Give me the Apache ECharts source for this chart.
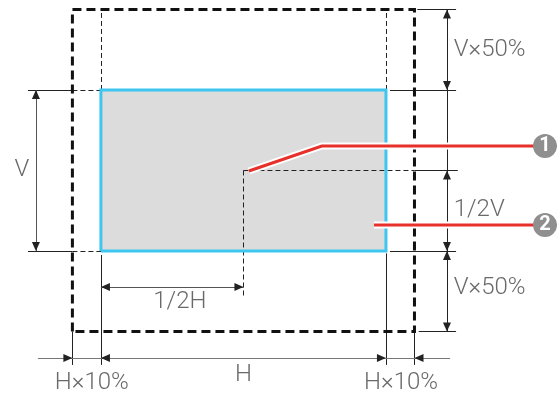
<!DOCTYPE html>
<html>
<head>
<meta charset="UTF-8">
<title>Screen size diagram</title>
<script src="https://cdn.jsdelivr.net/npm/echarts@6/dist/echarts.min.js"></script>
<style>
    html, body { margin: 0; padding: 0; background: #fff; }
    #main { width: 557px; height: 396px; }
</style>
</head>
<body>
<div id="main"></div>
<script>
    // screen (H x V) in percent of itself, margins in percent
    var H = 100, V = 100;
    var sideMargin = 10;   // H×10%
    var topMargin = 50;    // V×50%
    var dimLabels = ['V', 'V×50%', '1/2V', 'V×50%', '1/2H', 'H×10%', 'H', 'H×10%'];
    var callouts = ['1', '2'];

    // visible window of the diagram, same units as H / V
    var xMin = -35.4, xMax = 160.0;
    var yMin = -90.1, yMax = 155.9;

    var oL = -sideMargin, oR = H + sideMargin;     // outer box
    var oB = -topMargin, oT = V + topMargin;
    var cx = H / 2, cy = V / 2;

    var thinDash = {color: '#222', width: 1, type: [5, 3], opacity: 1};
    var solid = {color: '#222', width: 1, opacity: 1};
    var dimLine = {color: '#555', width: 1, opacity: 1};

    var xV = -22.8, xR = 121.4, yBot = -66.5, yHalf = -22.4;
    var extL = -25.6, extR = 124.6, extB = -70.8;

    var guides = [
        // thin dashed guides
        {coords: [[0, V], [0, oT]], lineStyle: thinDash},
        {coords: [[H, V], [H, oT]], lineStyle: thinDash},
        {coords: [[oL, V], [0, V]], lineStyle: thinDash},
        {coords: [[oL, 0], [0, 0]], lineStyle: thinDash},
        {coords: [[cx, cy], [oR, cy]], lineStyle: thinDash},
        {coords: [[cx, cy], [cx, -28]], lineStyle: thinDash},
        // extension lines
        {coords: [[extL, V], [oL, V]], lineStyle: solid},
        {coords: [[extL, 0], [oL, 0]], lineStyle: solid},
        {coords: [[H + 1.4, V], [extR, V]], lineStyle: solid},
        {coords: [[H + 1.4, 0], [extR, 0]], lineStyle: solid},
        {coords: [[oR + 1, oT], [extR, oT]], lineStyle: solid},
        {coords: [[oR + 1.5, oB], [extR, oB]], lineStyle: solid},
        {coords: [[oR, cy], [extR + 0.6, cy]], lineStyle: solid},
        {coords: [[0, -2.5], [0, extB]], lineStyle: solid},
        {coords: [[H, -1.5], [H, extB]], lineStyle: solid},
        {coords: [[oL, oB], [oL, extB]], lineStyle: solid},
        {coords: [[oR, oB], [oR, extB]], lineStyle: solid},
        // dimension lines
        {coords: [[xV, 0], [xV, V]], lineStyle: dimLine},
        {coords: [[xR, oT], [xR, oB]], lineStyle: solid},
        {coords: [[0, yHalf], [cx, yHalf]], lineStyle: dimLine},
        {coords: [[-22.1, yBot], [122.5, yBot]], lineStyle: {color: '#777', width: 1, opacity: 1}}
    ];

    // arrow heads: tip position and direction
    var arrows = [
        [xV, V, 'up'], [xV, 0, 'down'],
        [xR, oT, 'up'], [xR, V, 'down'],
        [xR, cy, 'up'], [xR, 0, 'down'],
        [xR, 0, 'up'], [xR, oB, 'down'],
        [0, yHalf, 'left'], [cx, yHalf, 'right'],
        [oL, yBot, 'right'], [0, yBot, 'left'],
        [H, yBot, 'right'], [oR, yBot, 'left']
    ];

    var call1 = [[51.9, 49.7], [77.5, 65.2], [152.3, 65.2]];
    var call2 = [[95.8, 16.1], [152.3, 16.1]];

    var textStyle = {fontFamily: 'Roboto', fontWeight: 300, fontSize: 24, color: '#444'};
    var labelPts = [
        [-27.7, cy, 'center'], [123.6, 125, 'left'], [123.6, 25.5, 'left'], [123.6, -23, 'left'],
        [27.7, -31.7, 'center'], [-3.2, -82, 'center'], [cx, -77, 'center'], [105.3, -82, 'center']
    ];

    var chart = echarts.init(document.getElementById('main'));
    chart.setOption({
        animation: false,
        grid: {left: 0, right: 0, top: 0, bottom: 0},
        xAxis: {type: 'value', min: xMin, max: xMax, show: false},
        yAxis: {type: 'value', min: yMin, max: yMax, show: false},
        series: [
            {
                type: 'custom',
                z: 1,
                data: [[0, 0, H, V]],
                renderItem: function (params, api) {
                    var p0 = api.coord([api.value(0), api.value(3)]);
                    var p1 = api.coord([api.value(2), api.value(1)]);
                    return {
                        type: 'rect',
                        shape: {x: p0[0], y: p0[1], width: p1[0] - p0[0], height: p1[1] - p0[1]},
                        style: {fill: '#dcdcdc', stroke: null}
                    };
                }
            },
            {
                type: 'lines', coordinateSystem: 'cartesian2d', z: 2,
                symbol: 'none', silent: true,
                data: guides
            },
            {
                type: 'lines', coordinateSystem: 'cartesian2d', z: 3, polyline: true,
                symbol: 'none',
                lineStyle: {color: '#3ec6f0', width: 3, opacity: 1},
                data: [{coords: [[0, 0], [0, V], [H, V], [H, 0], [0, 0]]}]
            },
            {
                type: 'lines', coordinateSystem: 'cartesian2d', z: 4, polyline: true,
                symbol: 'none',
                lineStyle: {color: '#111', width: 3, type: [9, 5], opacity: 1},
                data: [{coords: [[oL, oB], [oL, oT], [oR, oT], [oR, oB], [oL, oB]]}]
            },
            {
                type: 'custom', z: 5,
                data: arrows,
                renderItem: function (params, api) {
                    var d = arrows[params.dataIndex][2];
                    var p = api.coord([api.value(0), api.value(1)]);
                    var L = 9, w = 4;
                    var pts;
                    if (d === 'up') pts = [[p[0], p[1]], [p[0] - w, p[1] + L], [p[0] + w, p[1] + L]];
                    else if (d === 'down') pts = [[p[0], p[1]], [p[0] - w, p[1] - L], [p[0] + w, p[1] - L]];
                    else if (d === 'left') pts = [[p[0], p[1]], [p[0] + L, p[1] - w], [p[0] + L, p[1] + w]];
                    else pts = [[p[0], p[1]], [p[0] - L, p[1] - w], [p[0] - L, p[1] + w]];
                    return {type: 'polygon', shape: {points: pts}, style: {fill: '#222'}};
                }
            },
            {
                type: 'lines', coordinateSystem: 'cartesian2d', z: 6, polyline: true,
                symbol: 'none',
                lineStyle: {color: '#fff', width: 7, opacity: 1},
                data: [{coords: call1}, {coords: call2}]
            },
            {
                type: 'lines', coordinateSystem: 'cartesian2d', z: 7, polyline: true,
                symbol: 'none',
                lineStyle: {color: '#e8302a', width: 3, opacity: 1},
                data: [{coords: call1}, {coords: call2}]
            },
            {
                type: 'scatter', z: 8,
                symbolSize: 24,
                itemStyle: {color: '#8f8f8f', opacity: 1},
                label: {show: true, position: 'inside', color: '#fff', fontSize: 20,
                    fontFamily: 'Roboto', fontWeight: 'bold', formatter: '{b}'},
                data: [
                    {name: callouts[0], value: [155.8, 65.2]},
                    {name: callouts[1], value: [155.8, 16.1]}
                ]
            },
            {
                type: 'scatter', z: 9,
                symbolSize: 1,
                itemStyle: {color: 'transparent'},
                data: labelPts.map(function (p, i) {
                    return {
                        name: dimLabels[i], value: [p[0], p[1]],
                        label: Object.assign({show: true, formatter: '{b}',
                            position: p[2] === 'left' ? 'right' : 'inside', distance: 0}, textStyle)
                    };
                })
            }
        ]
    });
</script>
</body>
</html>
